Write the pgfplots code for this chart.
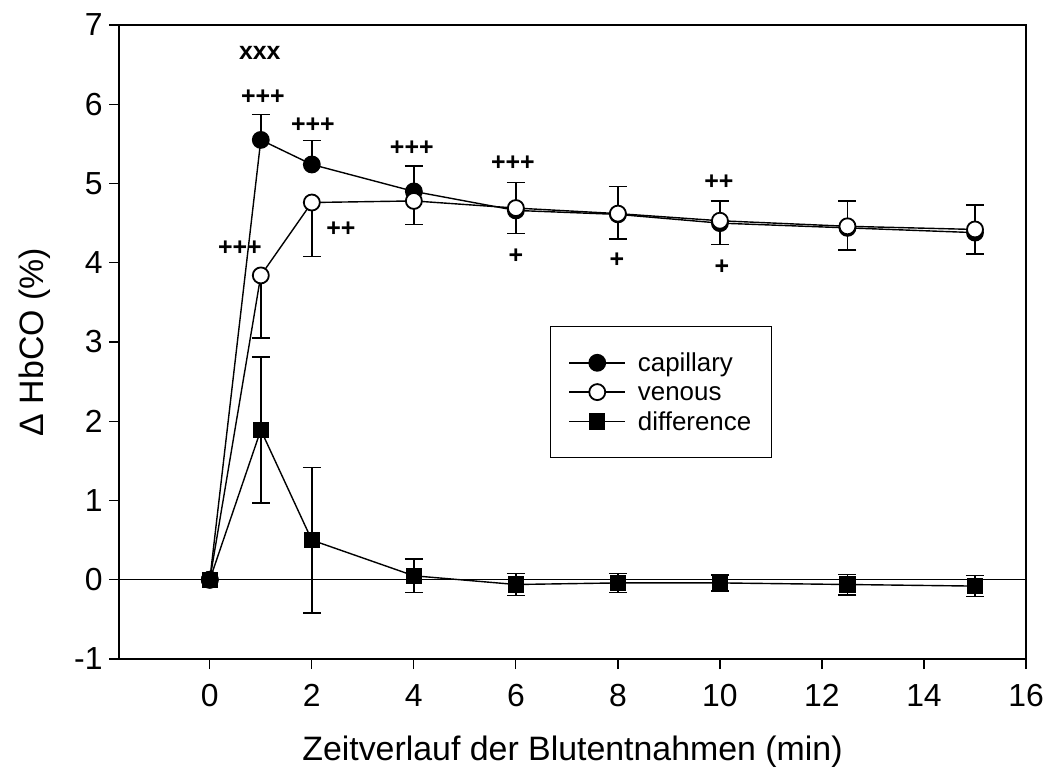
\documentclass[border=0pt]{standalone}
\usepackage{fontspec}
\setmainfont{Liberation Sans}
\usepackage{pgfplots}
\pgfplotsset{compat=1.18}

\begin{document}
\begin{tikzpicture}
\begin{axis}[
    scale only axis, width=907bp, height=634bp,
    xmin=-1.78, xmax=16, ymin=-1, ymax=7,
    xtick={0,2,...,16}, ytick={-1,0,...,7},
    axis line style={line width=1.4bp},
    tickpos=left, tick align=outside, major tick length=10bp,
    tick style={line width=1.2bp, black},
    /pgf/number format/assume math mode=true,
    ticklabel style={font=\fontsize{32}{38}\selectfont},
    xticklabel style={yshift=-12bp},
    yticklabel style={xshift=-3bp},
    label style={font=\fontsize{34}{40}\selectfont},
    xlabel={Zeitverlauf der Blutentnahmen (min)},
    ylabel={Δ HbCO (\%)},
    xlabel style={at={(axis description cs:0.5,-0.1467)}, anchor=center},
    ylabel style={at={(axis description cs:-0.0926,0.5)}, anchor=center},
    legend style={at={(axis cs:6.67,3.2)}, anchor=north west, draw=black, line width=1bp,
        font=\fontsize{26}{27}\selectfont, inner xsep=18bp, inner ysep=24bp, row sep=5bp,
        /tikz/every odd column/.append style={column sep=10bp}},
    legend cell align=left,
    legend image code/.code={\draw[mark repeat=2,mark phase=2,#1] plot coordinates {(0bp,0bp) (28bp,0bp) (56bp,0bp)};},
    every axis plot/.append style={line width=1.4bp, black},
    error bars/error bar style={line width=1.4bp, black},
    error bars/error mark options={rotate=90, mark size=9bp, line width=1.4bp, black},
]
\addplot[forget plot, line width=1bp] coordinates {(-1.78,0) (16,0)};

\addplot[mark=*, mark size=8bp, mark options={fill=black, line width=1.8bp},
    error bars/.cd, y dir=plus, y explicit]
    coordinates {(0,0) +- (0,0) (1,5.55) +- (0,0.32) (2,5.24) +- (0,0.30) (4,4.90) +- (0,0.32)
    (6,4.66) +- (0,0.35) (8,4.61) +- (0,0.35) (10,4.50) +- (0,0.28) (12.5,4.44) +- (0,0.34) (15,4.38) +- (0,0.35)};
\addlegendentry{\strut capillary}

\addplot[mark=*, mark size=8bp, mark options={fill=white, line width=1.8bp},
    error bars/.cd, y dir=minus, y explicit]
    coordinates {(0,0) +- (0,0) (1,3.84) +- (0,0.79) (2,4.76) +- (0,0.68) (4,4.78) +- (0,0.30)
    (6,4.69) +- (0,0.32) (8,4.62) +- (0,0.32) (10,4.53) +- (0,0.30) (12.5,4.46) +- (0,0.30) (15,4.42) +- (0,0.31)};
\addlegendentry{\strut venous}

\addplot[mark=square*, mark size=7.5bp, mark options={fill=black},
    error bars/.cd, y dir=both, y explicit]
    coordinates {(0,0) +- (0,0) (1,1.89) +- (0,0.92) (2,0.50) +- (0,0.92) (4,0.05) +- (0,0.21)
    (6,-0.06) +- (0,0.14) (8,-0.04) +- (0,0.12) (10,-0.04) +- (0,0.10) (12.5,-0.06) +- (0,0.13) (15,-0.08) +- (0,0.13)};
\addlegendentry{\strut difference\hspace{6bp}}

\begin{scope}[every node/.style={font=\bfseries\fontsize{25}{27}\selectfont, inner sep=0pt}]
\node at (axis cs:0.98,6.65) {xxx};
\node at (axis cs:1.04,6.09) {+++};
\node at (axis cs:2.02,5.73) {+++};
\node at (axis cs:3.96,5.44) {+++};
\node at (axis cs:5.94,5.26) {+++};
\node at (axis cs:9.98,5.02) {++};
\node at (axis cs:0.59,4.18) {+++};
\node at (axis cs:2.57,4.42) {++};
\node at (axis cs:6.00,4.08) {+};
\node at (axis cs:7.98,4.03) {+};
\node at (axis cs:10.04,3.95) {+};
\end{scope}
\end{axis}
\pgfresetboundingbox
\path[use as bounding box] (-119bp,-117bp) rectangle (926bp,659bp);
\end{tikzpicture}
\end{document}
